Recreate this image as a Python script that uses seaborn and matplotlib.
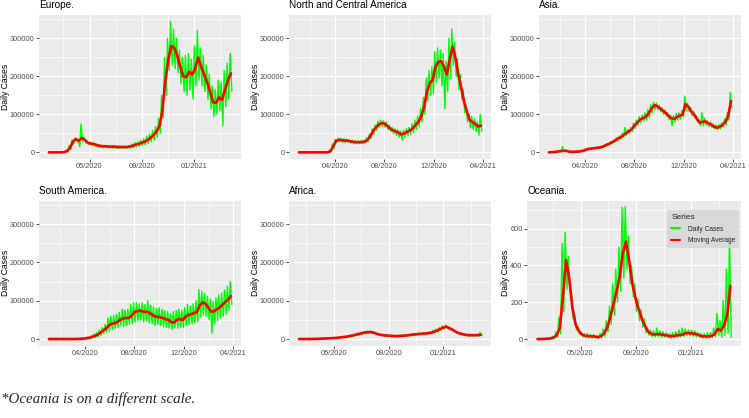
import pandas as pd
import numpy as np
import matplotlib
matplotlib.use('Agg')
import matplotlib.pyplot as plt
import matplotlib.dates as mdates
from matplotlib.lines import Line2D
from matplotlib.ticker import FixedLocator, FuncFormatter
import seaborn as sns

# weekly readings (thousands of cases for the first five regions, raw counts for Oceania)
# ma = moving average, hi / lo = daily peaks and troughs within the week
europe_start = '2020-01-24'
europe_ma = [0, 0, 0, 0, 0, 0.5, 3, 12, 28, 35, 30, 38, 33, 25, 23, 22, 19, 17, 16, 16,
             15, 15, 15, 14, 14, 14, 14, 15, 17, 20, 22, 25, 28, 32, 38, 45, 55, 68, 110, 190,
             245, 280, 275, 255, 225, 200, 198, 212, 205, 220, 250, 225, 205, 185, 160, 132, 130, 145, 138, 165,
             190, 208]
europe_hi = [0, 0, 0, 0, 0, 1, 5, 18, 33, 38, 35, 75, 40, 30, 27, 25, 22, 20, 19, 18,
             18, 18, 18, 17, 17, 17, 17, 18, 22, 26, 28, 32, 36, 42, 48, 58, 68, 90, 150, 250,
             300, 345, 325, 300, 270, 250, 255, 260, 245, 280, 320, 275, 255, 230, 205, 175, 165, 190, 185, 215,
             235, 260]
europe_lo = [0, 0, 0, 0, 0, 0, 1, 8, 22, 30, 15, 28, 25, 20, 18, 16, 14, 13, 12, 12,
             11, 11, 11, 10, 10, 10, 10, 11, 12, 14, 16, 18, 20, 24, 28, 33, 40, 50, 90, 150,
             215, 230, 220, 210, 180, 160, 150, 165, 140, 175, 190, 175, 160, 140, 115, 95, 100, 110, 70, 120,
             140, 160]

america_start = '2020-01-01'
america_ma = [0, 0, 0, 0, 0, 0, 0, 0, 0, 0, 0, 3, 15, 30, 33, 32, 31, 31, 29, 28,
              27, 27, 27, 28, 32, 42, 55, 65, 73, 77, 76, 70, 63, 58, 55, 52, 47, 50, 54, 57,
              63, 72, 80, 95, 120, 160, 182, 190, 225, 238, 240, 225, 205, 245, 278, 250, 205, 172, 135, 108,
              85, 80, 75, 68, 70]
america_hi = [0, 0, 0, 0, 0, 0, 0, 0, 0, 0, 0, 5, 22, 34, 38, 37, 36, 35, 33, 32,
              31, 30, 31, 32, 38, 48, 62, 72, 82, 85, 84, 80, 72, 66, 62, 60, 56, 58, 62, 66,
              75, 85, 95, 115, 145, 195, 215, 225, 265, 275, 270, 260, 240, 300, 325, 290, 245, 205, 165, 125,
              100, 95, 88, 80, 100]
america_lo = [0, 0, 0, 0, 0, 0, 0, 0, 0, 0, 0, 1, 10, 26, 28, 27, 26, 26, 24, 23,
              23, 23, 24, 25, 28, 36, 48, 58, 66, 68, 66, 60, 55, 50, 45, 40, 32, 40, 44, 48,
              52, 60, 68, 80, 100, 135, 150, 155, 185, 195, 175, 115, 160, 195, 230, 200, 165, 140, 105, 80,
              65, 60, 55, 45, 55]

asia_start = '2020-01-01'
asia_ma = [0, 0.5, 1, 2, 3, 4, 4, 2, 1.5, 1.5, 2, 2.5, 4, 7, 9, 10, 11, 12, 13, 15,
           19, 22, 26, 30, 35, 39, 44, 50, 55, 60, 70, 78, 86, 90, 93, 102, 115, 124, 122, 116,
           110, 104, 96, 90, 88, 93, 96, 100, 127, 120, 108, 100, 88, 78, 80, 82, 76, 73, 68, 65,
           67, 72, 80, 95, 135]
asia_hi = [0, 1, 2, 3, 5, 15, 6, 3, 2, 2, 3, 3, 5, 8, 10, 11, 12, 13, 14, 17,
           21, 24, 28, 33, 38, 43, 50, 66, 60, 66, 77, 85, 94, 98, 105, 113, 125, 132, 130, 124,
           118, 112, 104, 98, 97, 103, 104, 110, 148, 130, 118, 108, 96, 86, 105, 90, 82, 80, 75, 72,
           73, 78, 88, 105, 158]
asia_lo = [0, 0, 0, 1, 2, 2, 2, 1, 1, 1, 1, 2, 3, 6, 8, 9, 10, 11, 12, 13,
           17, 20, 23, 27, 31, 35, 40, 45, 50, 55, 63, 72, 78, 82, 85, 92, 104, 112, 112, 107,
           100, 96, 86, 70, 80, 85, 88, 92, 110, 108, 97, 90, 80, 70, 70, 72, 68, 66, 62, 60,
           62, 66, 72, 85, 118]

south_start = '2020-01-01'
south_ma = [0, 0, 0, 0, 0, 0, 0, 0, 0, 0, 0.2, 0.5, 1, 2, 3, 5, 8, 11, 16, 22,
            27, 35, 40, 41, 44, 50, 53, 55, 55, 60, 70, 73, 74, 72, 71, 70, 65, 60, 58, 57,
            55, 52, 50, 44, 43, 50, 52, 50, 58, 63, 65, 68, 70, 88, 95, 93, 82, 72, 72, 78,
            82, 90, 97, 103, 112]
south_hi = [0, 0, 0, 0, 0, 0, 0, 0, 0, 0, 0.5, 1, 2, 3, 5, 8, 13, 17, 24, 30,
            38, 55, 60, 62, 65, 70, 78, 76, 78, 90, 95, 95, 92, 94, 90, 100, 88, 84, 80, 82,
            78, 74, 72, 66, 72, 75, 78, 75, 82, 90, 86, 92, 100, 130, 125, 120, 112, 105, 98, 108,
            115, 120, 128, 138, 150]
south_lo = [0, 0, 0, 0, 0, 0, 0, 0, 0, 0, 0, 0, 0.5, 1, 2, 3, 4, 6, 9, 14,
            18, 20, 25, 28, 30, 35, 33, 35, 38, 40, 45, 48, 50, 45, 48, 42, 40, 35, 38, 35,
            32, 30, 28, 25, 30, 28, 32, 30, 35, 38, 40, 42, 45, 58, 62, 60, 50, 15, 40, 48,
            55, 60, 65, 75, 90]

africa_start = '2020-02-11'
africa_ma = [0, 0, 0, 0, 0.1, 0.3, 0.5, 0.8, 1.2, 1.5, 2, 2.5, 3, 4, 5, 6, 7.5, 9, 11, 13,
             15, 17, 18, 18, 16, 13, 11, 9.5, 9, 8.5, 8, 7.5, 8, 8.5, 9, 10, 11, 12, 13, 13.5,
             14, 15, 16, 19, 22, 26, 30, 32, 28, 24, 19, 15, 13, 11, 10, 10, 10, 10, 11]
africa_hi = [0, 0, 0, 0, 0.3, 0.6, 1, 1.2, 1.8, 2, 2.6, 3, 3.8, 5, 6, 7, 9, 11, 13, 15,
             18, 20, 21, 21, 19, 15, 13, 11, 10.5, 10, 9.5, 9, 10, 11, 11, 12, 14, 15, 15, 16,
             17, 18, 19, 22, 26, 30, 35, 37, 32, 28, 22, 17, 15, 13, 12, 12, 12, 13, 17]
africa_lo = [0, 0, 0, 0, 0, 0.1, 0.2, 0.5, 0.8, 1, 1.5, 2, 2.4, 3, 4, 5, 6, 7, 9, 11,
             12, 14, 15, 15, 13, 11, 9, 8, 7.5, 7, 6.5, 6, 6.5, 7, 7.5, 8, 9, 10, 11, 11.5,
             12, 13, 14, 16, 18, 22, 26, 28, 24, 20, 16, 13, 11, 9, 8, 8, 8, 8, 9]

oceania_start = '2020-01-24'
oceania_ma = [0, 0, 1, 2, 3, 8, 20, 60, 230, 430, 330, 170, 80, 45, 25, 18, 16, 15, 14, 10,
              15, 30, 60, 120, 190, 260, 340, 470, 530, 420, 300, 220, 160, 110, 70, 40, 28, 25, 27, 25,
              22, 20, 15, 17, 20, 22, 25, 33, 32, 30, 28, 22, 15, 15, 14, 18, 25, 55, 45, 75,
              130, 290]
oceania_hi = [0, 0, 2, 4, 6, 15, 40, 120, 520, 580, 450, 250, 130, 70, 40, 30, 30, 25, 25, 20,
              30, 55, 100, 180, 300, 380, 500, 716, 720, 560, 400, 300, 220, 160, 110, 65, 50, 45, 60, 45,
              40, 35, 30, 35, 40, 50, 60, 55, 50, 50, 45, 35, 30, 30, 35, 35, 60, 140, 100, 210,
              380, 570]
oceania_lo = [0, 0, 0, 1, 1, 3, 10, 30, 150, 270, 250, 110, 50, 25, 12, 8, 8, 6, 5, 3,
              6, 15, 40, 80, 130, 200, 260, 330, 380, 300, 230, 150, 100, 65, 35, 20, 12, 12, 15, 10,
              10, 8, 5, 8, 10, 12, 15, 20, 18, 15, 12, 10, 5, 5, 5, 8, 12, 20, 10, 20,
              30, 10]

titles = ['Europe.', 'North and Central America', 'Asia.',
          'South America.', 'Africa.', 'Oceania.']
ticks_a = ['2020-05-01', '2020-09-01', '2021-01-01']
ticks_b = ['2020-04-01', '2020-08-01', '2020-12-01', '2021-04-01']
y_ticks_main = [0, 100000, 200000, 300000]
y_ticks_oce = [0, 200, 400, 600]

panels = [
    (europe_start, europe_ma, europe_hi, europe_lo, 1000, ticks_a),
    (america_start, america_ma, america_hi, america_lo, 1000, ticks_b),
    (asia_start, asia_ma, asia_hi, asia_lo, 1000, ticks_b),
    (south_start, south_ma, south_hi, south_lo, 1000, ticks_b),
    (africa_start, africa_ma, africa_hi, africa_lo, 1000, ticks_a),
    (oceania_start, oceania_ma, oceania_hi, oceania_lo, 1, ticks_a),
]

sns.set_style('darkgrid', {'axes.facecolor': '#EBEBEB', 'grid.color': 'white'})
plt.rcParams['font.family'] = ['Liberation Sans', 'DejaVu Sans']

W, H = 749, 418
fig = plt.figure(figsize=(W / 100, H / 100), dpi=100)

# axes boxes in pixels: left, top, right, bottom
boxes = [(39, 15, 241, 159), (289, 15, 491, 159), (539, 15, 741, 159),
         (39, 200.7, 241, 345.7), (289, 200.7, 491, 345.7), (527, 200.7, 741, 345.7)]


def make_frames(start, ma, hi, lo, scale):
    weeks = pd.date_range(start, periods=len(ma), freq='7D')
    avg = pd.DataFrame({'date': weeks + pd.Timedelta(days=3),
                        'value': np.array(ma, dtype=float) * scale})
    daily = pd.DataFrame({'date': list(weeks + pd.Timedelta(days=1)) + list(weeks + pd.Timedelta(days=5)),
                          'value': list(np.array(hi, dtype=float) * scale) + list(np.array(lo, dtype=float) * scale)})
    daily = daily.sort_values('date')
    return daily, avg


for i, (start, ma, hi, lo, scale, xt) in enumerate(panels):
    l, t, r, b = boxes[i]
    ax = fig.add_axes([l / W, 1 - b / H, (r - l) / W, (b - t) / H])
    daily, avg = make_frames(start, ma, hi, lo, scale)
    sns.lineplot(data=daily, x='date', y='value', color='#00FF00', lw=1.0,
                 estimator=None, ax=ax)
    sns.lineplot(data=avg, x='date', y='value', color='#FF0000', lw=1.9,
                 estimator=None, ax=ax)
    ax.margins(x=0.05)

    if i < 5:
        ax.set_ylim(-17500, 361500)
        yt = y_ticks_main
    else:
        ax.set_ylim(-36, 752)
        yt = y_ticks_oce
    ax.yaxis.set_major_locator(FixedLocator(yt))
    step = yt[1] - yt[0]
    ax.yaxis.set_minor_locator(FixedLocator([v + step / 2 for v in yt]))
    ax.yaxis.set_major_formatter(FuncFormatter(lambda v, p: f'{int(v)}'))

    xnum = [mdates.date2num(pd.Timestamp(d)) for d in xt]
    ax.xaxis.set_major_locator(FixedLocator(xnum))
    gap = xnum[1] - xnum[0]
    ax.xaxis.set_minor_locator(FixedLocator([xnum[0] - gap / 2] + [v + gap / 2 for v in xnum]))
    ax.xaxis.set_major_formatter(mdates.DateFormatter('%m/%Y'))

    ax.grid(True, which='major', color='white', lw=0.9)
    ax.grid(True, which='minor', color='white', lw=0.45)
    ax.tick_params(which='major', length=2, width=0.6, color='#333333', pad=1.2,
                   labelsize=5.3, labelcolor='#4D4D4D', bottom=True, left=True)
    ax.tick_params(which='minor', length=0)
    for s in ax.spines.values():
        s.set_visible(False)

    ax.set_xlabel('')
    ax.set_ylabel('Daily Cases', fontsize=6.2, color='black')
    lab_x = 9.8 if i not in (1, 2, 4, 5) else (259.8 if i in (1, 4) else (509.8 if i == 2 else 509.8))
    ax.yaxis.set_label_coords((lab_x - l) / (r - l), 0.5)
    ax.set_title(titles[i], loc='left', fontsize=7.2, pad=4.8, color='black')

    if i == 5:
        handles = [Line2D([], [], color='#00FF00', lw=1.5),
                   Line2D([], [], color='#FF0000', lw=1.5)]
        leg = ax.legend(handles, ['Daily Cases', 'Moving Average'], title='Series',
                        loc='upper right', bbox_to_anchor=(1.008, 0.96),
                        fontsize=4.8, title_fontsize=6.0, frameon=True,
                        facecolor='#D6D6D6', framealpha=0.85, edgecolor='none',
                        fancybox=False, handlelength=1.3, borderpad=0.6,
                        labelspacing=0.7, handletextpad=1.2)
        leg._legend_box.align = 'left'

fig.text(1 / W, 1 - 398.7 / H, '*Oceania is on a different scale.',
         family=['Liberation Serif', 'DejaVu Serif'], style='italic', fontsize=10.8,
         va='center', ha='left')

fig.savefig('out.png', dpi=100)
